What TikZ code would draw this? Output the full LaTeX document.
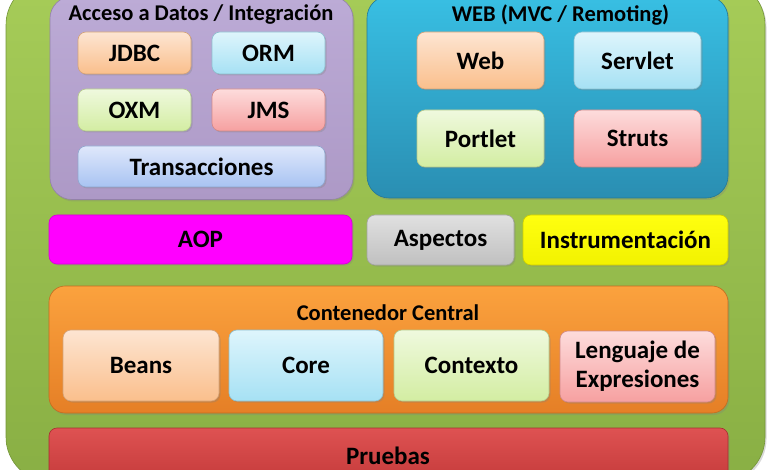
\documentclass[tikz,border=0pt]{standalone}
\usepackage{fontspec}
\setmainfont{Carlito}
\usetikzlibrary{shadows}

\definecolor{bgTop}{HTML}{A6CC58}
\definecolor{bgBot}{HTML}{89AF44}
\definecolor{dataTop}{HTML}{BCABD6}
\definecolor{dataBot}{HTML}{AD99C6}
\definecolor{webTop}{HTML}{38BFE3}
\definecolor{webBot}{HTML}{2A8EB2}
\definecolor{peachTop}{HTML}{FDE5D2}
\definecolor{peachBot}{HTML}{FABF8C}
\definecolor{skyTop}{HTML}{DEF5FC}
\definecolor{skyBot}{HTML}{A6E1F4}
\definecolor{limeTop}{HTML}{EFF9DE}
\definecolor{limeBot}{HTML}{D3EDA2}
\definecolor{roseTop}{HTML}{FDDCDC}
\definecolor{roseBot}{HTML}{F6A0A0}
\definecolor{iceTop}{HTML}{DFE8FB}
\definecolor{iceBot}{HTML}{A8C3F2}
\definecolor{orTop}{HTML}{FBA23E}
\definecolor{orBot}{HTML}{E57F26}
\definecolor{redTop}{HTML}{DE5252}
\definecolor{redBot}{HTML}{C23838}
\definecolor{aopCol}{HTML}{FF00FF}
\definecolor{grayTop}{HTML}{E0E0E0}
\definecolor{grayBot}{HTML}{C0C0C0}
\definecolor{yelTop}{HTML}{FFFF10}
\definecolor{yelBot}{HTML}{F2F200}

\begin{document}
\begin{tikzpicture}[x=1pt, y=-1pt,
  group/.style 2 args={
    top color=#1, bottom color=#2, draw=#2!85!black, line width=0.6pt,
    rounded corners=22pt, inner sep=0pt,
    drop shadow={opacity=0.3, shadow xshift=1.5pt, shadow yshift=-2pt}
  },
  tile/.style 2 args={
    top color=#1, bottom color=#2, draw=#2!85!black, line width=0.6pt,
    rounded corners=8pt, inner sep=0pt, align=center,
    font=\fontsize{25}{29}\selectfont\bfseries,
    drop shadow={opacity=0.3, shadow xshift=1.5pt, shadow yshift=-1.5pt}
  },
  title/.style={font=\fontsize{22.5}{25}\selectfont\bfseries, inner sep=0pt}
]
\useasboundingbox (0,0) rectangle (770,470);
\clip (0,0) rectangle (770,470);

% Background
\node[group={bgTop}{bgBot}, rounded corners=45pt,
      minimum width=759pt, minimum height=502pt] (bg) at (385.5,231) {};

% Data access / integration
\node[group={dataTop}{dataBot}, minimum width=303pt, minimum height=203pt] (data) at (201.5,98) {};
\node[title] (dataT) at (201,15) {Acceso a Datos / Integración};
\node[tile={peachTop}{peachBot}, minimum width=113pt, minimum height=42pt] (jdbc) at (134.5,53) {JDBC};
\node[tile={skyTop}{skyBot},     minimum width=113pt, minimum height=42pt] (orm)  at (268.5,53) {ORM};
\node[tile={limeTop}{limeBot},   minimum width=113pt, minimum height=42pt] (oxm)  at (134.5,110) {OXM};
\node[tile={roseTop}{roseBot},   minimum width=113pt, minimum height=42pt] (jms)  at (268.5,110) {JMS};
\node[tile={iceTop}{iceBot},     minimum width=247pt, minimum height=41pt] (tx)   at (201.5,166.5) {Transacciones};

% Web
\node[group={webTop}{webBot}, minimum width=361pt, minimum height=202pt] (web) at (547.5,97) {};
\node[title] (webT) at (560.5,15) {WEB (MVC / Remoting)};
\node[tile={peachTop}{peachBot}, minimum width=127pt, minimum height=57pt] (webm)    at (480.5,60.5) {Web};
\node[tile={skyTop}{skyBot},     minimum width=127pt, minimum height=57pt] (servlet) at (637.5,60.5) {Servlet};
\node[tile={limeTop}{limeBot},   minimum width=127pt, minimum height=57pt] (portlet) at (480.5,138.5) {Portlet};
\node[tile={roseTop}{roseBot},   minimum width=127pt, minimum height=57pt] (struts)  at (637.5,138.5) {Struts};

% Middle row
\node[tile={aopCol}{aopCol},   minimum width=303pt, minimum height=49pt] (aop)   at (200.5,239.5) {AOP};
\node[tile={grayTop}{grayBot}, minimum width=147pt, minimum height=50pt] (asp)   at (440.5,240) {Aspectos};
\node[tile={yelTop}{yelBot},   minimum width=205pt, minimum height=50pt] (instr) at (625.5,240) {Instrumentación};

% Core container
\node[group={orTop}{orBot}, rounded corners=16pt, minimum width=679pt, minimum height=127pt] (core) at (388.5,349.5) {};
\node[title] (coreT) at (388,313) {Contenedor Central};
\node[tile={peachTop}{peachBot}, minimum width=156pt, minimum height=71pt] (beans) at (141,365.5) {Beans};
\node[tile={skyTop}{skyBot},     minimum width=154pt, minimum height=71pt] (corem) at (306,365.5) {Core};
\node[tile={limeTop}{limeBot},   minimum width=155pt, minimum height=71pt] (ctx)   at (471.5,365.5) {Contexto};
\node[tile={roseTop}{roseBot},   minimum width=155pt, minimum height=71pt] (el)    at (637.5,366.5) {Lenguaje de\\Expresiones};

% Tests
\node[tile={redTop}{redBot}, minimum width=679pt, minimum height=60pt] (test) at (388.5,458) {};
\node[font=\fontsize{25}{29}\selectfont\bfseries, inner sep=0pt] (testT) at (388,456) {Pruebas};

\end{tikzpicture}
\end{document}
